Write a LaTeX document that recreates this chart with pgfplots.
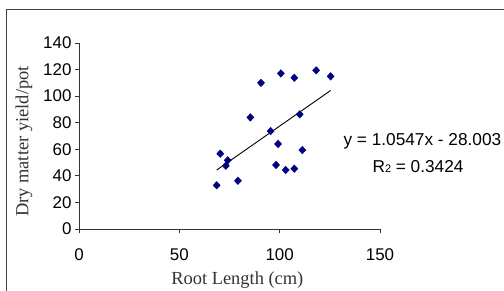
\documentclass[border=0pt]{standalone}
\usepackage{fontspec}
\setmainfont{Liberation Serif}
\newfontfamily\arial{Liberation Sans}
\usepackage{pgfplots}
\pgfplotsset{compat=1.18}
\definecolor{navy}{HTML}{000080}
\begin{document}
\begin{tikzpicture}
\useasboundingbox (0,0) rectangle (504bp,291bp);
\draw[black!75, line width=1bp] (6.5bp,-20bp) rectangle (530bp,281.5bp);
\begin{axis}[
  at={(79bp,62bp)}, anchor=south west,
  scale only axis, width=301bp, height=186bp,
  xmin=0, xmax=150, ymin=0, ymax=140,
  axis x line*=bottom, axis y line*=left,
  axis line style={black!80, line width=0.8bp, -},
  xtick={0,50,100,150}, ytick={0,20,...,140},
  tick align=outside, major tick length=4bp,
  tick style={black!80, line width=0.8bp},
  /pgf/number format/assume math mode=true,
  ticklabel style={font=\arial\fontsize{17}{17}\selectfont},
  xticklabel style={yshift=-12bp},
  xlabel={Root Length (cm)},
  ylabel={Dry matter yield/pot},
  label style={font=\fontsize{18.5}{18.5}\selectfont, text=black!80},
  xlabel style={at={(axis description cs:0.526,-0.274)}, anchor=center},
  ylabel style={at={(axis description cs:-0.183,0.47)}, anchor=center},
  clip=false,
]
\addplot[only marks, mark=diamond*, mark size=3.8bp, navy, mark options={fill=navy, draw=navy, xscale=1.25}] coordinates {
(68.6,32.9) (70.4,56.7) (74.1,51.7) (73.2,47.6) (79.2,36.3) (85.4,84.0)
(90.7,110.0) (95.5,73.7) (100.6,117.1) (99.2,64.0) (98.2,48.2) (103.0,44.4)
(107.3,113.8) (107.3,45.4) (110.0,86.3) (111.3,59.4) (118.2,119.4) (125.4,114.9)
};
\addplot[black, line width=0.9bp] coordinates {(68.6,44.35) (125.4,104.26)};
\end{axis}
\node[font=\arial\fontsize{17.3}{17.3}\selectfont, inner sep=0pt] at (422.4bp,149.3bp) {y = 1.0547x - 28.003};
\node[font=\arial\fontsize{17.3}{17.3}\selectfont, inner sep=0pt] at (418bp,124.3bp) {R{\fontsize{11}{11}\selectfont 2} = 0.3424};
\end{tikzpicture}
\end{document}
